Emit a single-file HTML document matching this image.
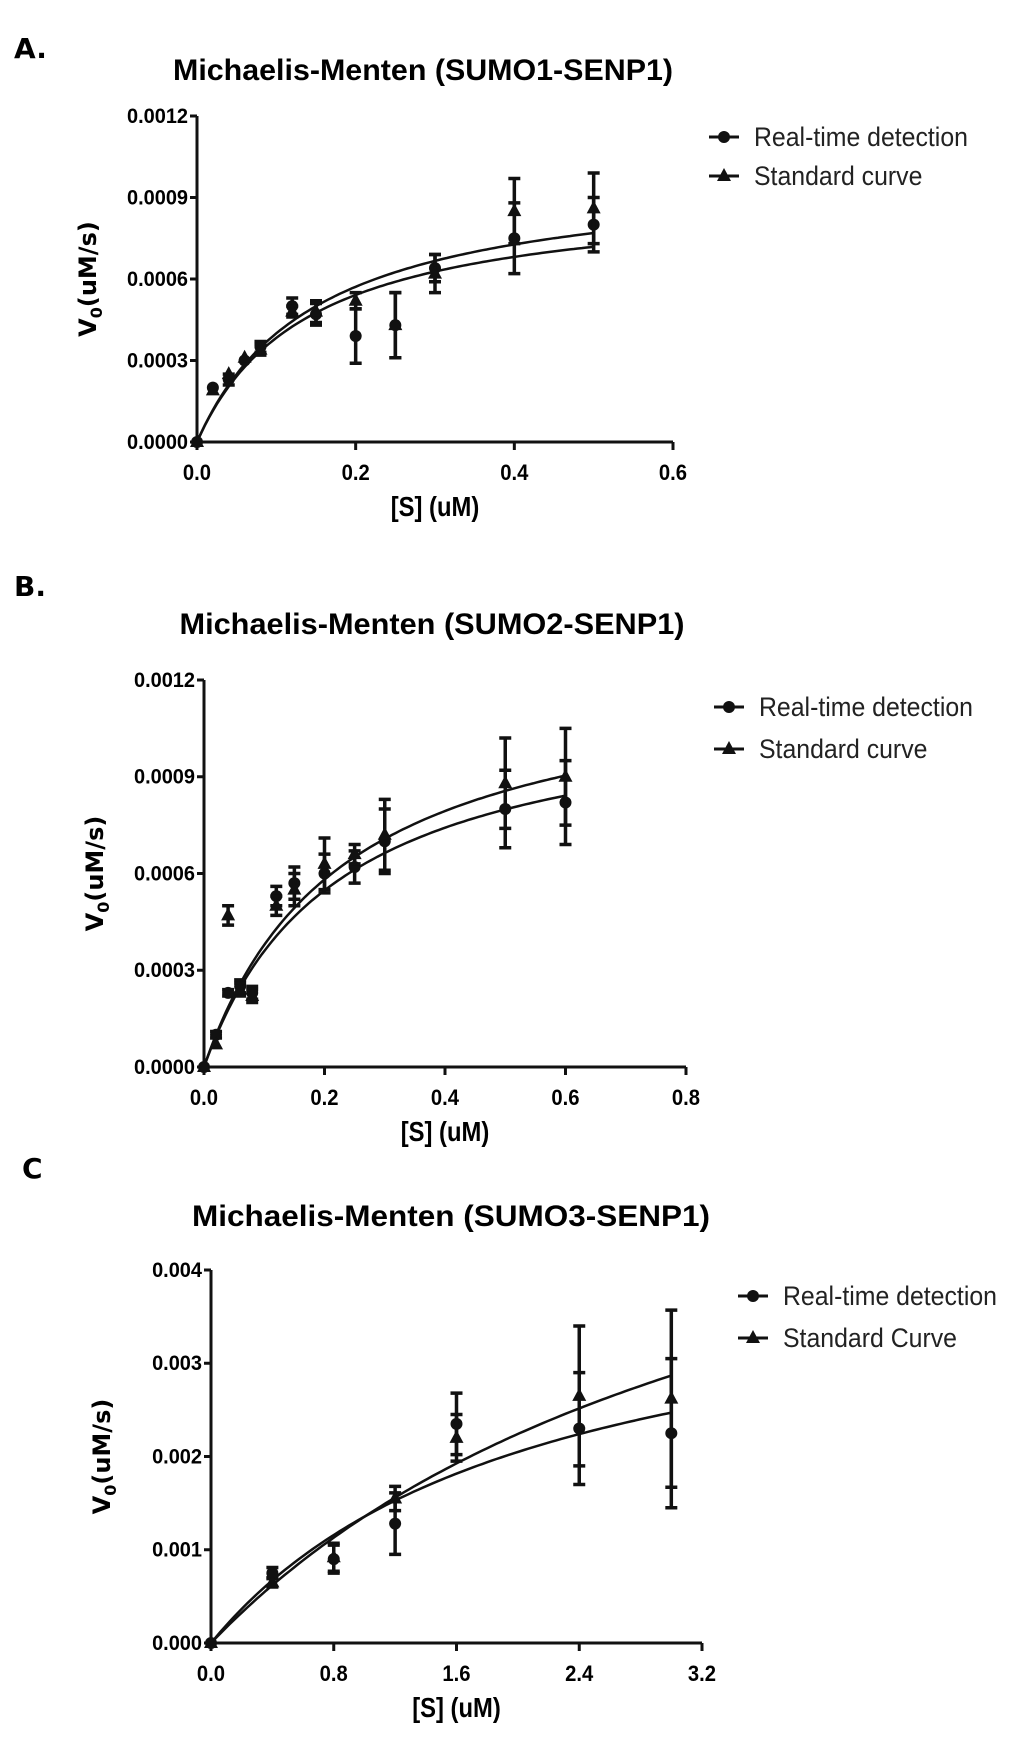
<!DOCTYPE html>
<html><head><meta charset="utf-8"><style>
body{margin:0;background:#fff;}
svg{display:block;font-family:"Liberation Sans",Arial,sans-serif;}
</style></head><body>
<svg id="fig" width="1024" height="1751" viewBox="0 0 1024 1751"></svg>
<script>
// Panel A data
const xA = [0,0.02,0.04,0.06,0.08,0.12,0.15,0.2,0.25,0.3,0.4,0.5];
const realA = [0,0.0002,0.00023,0.0003,0.00035,0.0005,0.00047,0.00039,0.00043,0.00064,0.00075,0.0008];
const realErrA = [0,0,0.00002,0,0.00002,0.00003,0.00004,0.0001,0.00012,0.00005,0.00013,0.0001];
const stdA = [0,0.00019,0.00025,0.00031,0.00034,0.00048,0.00048,0.00052,0.00043,0.00062,0.00085,0.00086];
const stdErrA = [0,0,0,0,0.00002,0.00002,0.00004,0.00003,0.00012,0.00007,0.00012,0.00013];
const fitA = [[0.00092,0.14],[0.001,0.15]];
const xTicksA = ["0.0","0.2","0.4","0.6"];
const yTicksA = ["0.0000","0.0003","0.0006","0.0009","0.0012"];
// Panel B data
const xB = [0,0.02,0.04,0.06,0.08,0.12,0.15,0.2,0.25,0.3,0.5,0.6];
const realB = [0,0.0001,0.00023,0.00025,0.00023,0.00053,0.00057,0.0006,0.00062,0.0007,0.0008,0.00082];
const realErrB = [0,0.00001,0.00001,0.00002,0.00002,0.00003,0.00005,0.00006,0.00005,0.0001,0.00012,0.00013];
const stdB = [0,0.00007,0.00047,0.00024,0.00022,0.0005,0.00055,0.00063,0.00066,0.00072,0.00088,0.0009];
const stdErrB = [0,0,0.00003,0.00002,0.00002,0.00003,0.00005,0.00008,0.00003,0.00011,0.00014,0.00015];
const fitB = [[0.00115,0.22],[0.00125,0.23]];
const xTicksB = ["0.0","0.2","0.4","0.6","0.8"];
const yTicksB = ["0.0000","0.0003","0.0006","0.0009","0.0012"];
// Panel C data
const xC = [0,0.4,0.8,1.2,1.6,2.4,3.0];
const realC = [0,0.00075,0.0009,0.00128,0.00235,0.0023,0.00225];
const realErrC = [0,0.00006,0.00015,0.00033,0.00033,0.0006,0.0008];
const stdC = [0,0.00065,0.00092,0.00155,0.0022,0.00265,0.00262];
const stdErrC = [0,0.00005,0.00015,0.00013,0.00025,0.00075,0.00095];
const fitC = [[0.0042,2.1],[0.0065,3.8]];
const xTicksC = ["0.0","0.8","1.6","2.4","3.2"];
const yTicksC = ["0.000","0.001","0.002","0.003","0.004"];

const NS="http://www.w3.org/2000/svg";
const svg=document.getElementById('fig');
function mk(tag,attrs,parent){const e=document.createElementNS(NS,tag);for(const k in attrs)e.setAttribute(k,attrs[k]);(parent||svg).appendChild(e);return e;}
function sc(x,s){return `translate(${x},0) scale(${s},1) translate(${-x},0)`;}

function panel(p){
  const g=mk('g',{});
  
  
  const xMax=parseFloat(p.xt[p.xt.length-1]), yMax=parseFloat(p.yt[p.yt.length-1]);
  const sx=v=>p.x0+(v/xMax)*(p.x1-p.x0);
  const sy=v=>p.y0-(v/yMax)*(p.y0-p.y1);
  let t=mk('text',{x:p.lx,y:p.ly,'font-size':28,'font-weight':'bold','font-family':'DejaVu Sans, sans-serif'},g);t.textContent=p.letter;
  
  
  t=mk('text',{x:p.tx,y:p.ty,'font-size':30,'font-weight':'bold','text-anchor':'middle',textLength:p.tw,lengthAdjust:'spacingAndGlyphs'},g);t.textContent=p.title;
  
  
  let a=mk('line',{x1:p.x0,y1:p.y0,x2:p.x1,y2:p.y0,stroke:'#111','stroke-width':3},g);
  
  
  a=mk('line',{x1:p.x0,y1:p.y0,x2:p.x0,y2:p.y1,stroke:'#111','stroke-width':3},g);
  
  
  p.xt.forEach(s=>{const v=parseFloat(s),X=sx(v);
    mk('line',{x1:X,y1:p.y0,x2:X,y2:p.y0+8,stroke:'#111','stroke-width':3},g);
    const tt=mk('text',{x:X,y:p.y0+38,'font-size':22,'font-weight':'bold','text-anchor':'middle',transform:sc(X,0.92)},g);tt.textContent=s;
    
    
  });
  p.yt.forEach(s=>{const v=parseFloat(s),Y=sy(v);
    mk('line',{x1:p.x0-7,y1:Y,x2:p.x0,y2:Y,stroke:'#111','stroke-width':3},g);
    const tx=p.x0-9;
    const tt=mk('text',{x:tx,y:Y+7,'font-size':21,'font-weight':'bold','text-anchor':'end',transform:sc(tx,0.95)},g);tt.textContent=s;
    
    
  });
  const xc=(p.x0+p.x1)/2;
  t=mk('text',{x:xc,y:p.y0+74,'font-size':28,'font-weight':'bold','text-anchor':'middle',transform:sc(xc,0.85)},g);t.textContent='[S] (uM)';
  
  
  const yc=(p.y0+p.y1)/2, yx=p.x0-101;
  t=mk('text',{x:yx,y:yc,'font-size':24,'font-weight':'bold','text-anchor':'middle',transform:`rotate(-90 ${yx} ${yc})`,'font-family':'DejaVu Sans, sans-serif'},g);
  t.innerHTML='V<tspan font-size="16" dy="6">0</tspan><tspan dy="-6">(uM/s)</tspan>';
  
  
  p.fit.forEach(f=>{let d='';for(let i=0;i<=100;i++){const v=p.xs[p.xs.length-1]*i/100;const y=f[0]*v/(f[1]+v);d+=(i?'L':'M')+sx(v).toFixed(1)+' '+sy(y).toFixed(1);}
    const pa=mk('path',{d:d,fill:'none',stroke:'#111','stroke-width':2.5},g);
    
    
  });
  const series=[[p.real,p.realErr,'circle'],[p.std,p.stdErr,'tri']];
  series.forEach(([ys,es,shape])=>{
    ys.forEach((v,i)=>{const X=sx(p.xs[i]),Y=sy(v);
      if(es[i]>0){const t1=sy(v+es[i]),b1=sy(v-es[i]);
        const eb=mk('path',{d:`M${X} ${t1}L${X} ${b1}M${X-6} ${t1}L${X+6} ${t1}M${X-6} ${b1}L${X+6} ${b1}`,stroke:'#111','stroke-width':3.5,fill:'none'},g);
        
        
      }
      let m;
      if(shape==='circle'){m=mk('circle',{cx:X,cy:Y,r:6,fill:'#111'},g);
        }
      else{m=mk('path',{d:`M${X} ${Y-8}L${X+7} ${Y+5}L${X-7} ${Y+5}Z`,fill:'#111'},g);
        }
      
    });
  });
  p.leg.forEach((lab,i)=>{const Y=p.legY[i];
    const lg=mk('g',{},g);
    
    
    mk('line',{x1:p.legX-15,y1:Y,x2:p.legX+15,y2:Y,stroke:'#111','stroke-width':3},lg);
    if(i===0)mk('circle',{cx:p.legX,cy:Y,r:6,fill:'#111'},lg);
    else mk('path',{d:`M${p.legX} ${Y-8}L${p.legX+7} ${Y+5}L${p.legX-7} ${Y+5}Z`,fill:'#111'},lg);
    const lx=p.legX+30;
    const tt=mk('text',{x:lx,y:Y+9,'font-size':27,fill:'#222',transform:sc(lx,0.92)},lg);tt.textContent=lab;
  });
}
panel({id:'a',letter:'A.',lx:14,ly:58,title:'Michaelis-Menten (SUMO1-SENP1)',tx:423,tw:500,ty:80,x0:197,x1:673,y0:442,y1:116,
  xs:xA,real:realA,realErr:realErrA,std:stdA,stdErr:stdErrA,fit:fitA,xt:xTicksA,yt:yTicksA,
  leg:['Real-time detection','Standard curve'],legX:724,legY:[137,176]});
panel({id:'b',letter:'B.',lx:14,ly:596,title:'Michaelis-Menten (SUMO2-SENP1)',tx:432,tw:505,ty:634,x0:204,x1:686,y0:1067,y1:680,
  xs:xB,real:realB,realErr:realErrB,std:stdB,stdErr:stdErrB,fit:fitB,xt:xTicksB,yt:yTicksB,
  leg:['Real-time detection','Standard curve'],legX:729,legY:[707,749]});
panel({id:'c',letter:'C',lx:22,ly:1178,title:'Michaelis-Menten (SUMO3-SENP1)',tx:451,tw:518,ty:1226,x0:211,x1:702,y0:1643,y1:1270,
  xs:xC,real:realC,realErr:realErrC,std:stdC,stdErr:stdErrC,fit:fitC,xt:xTicksC,yt:yTicksC,
  leg:['Real-time detection','Standard Curve'],legX:753,legY:[1296,1338]});
</script>
</body></html>
